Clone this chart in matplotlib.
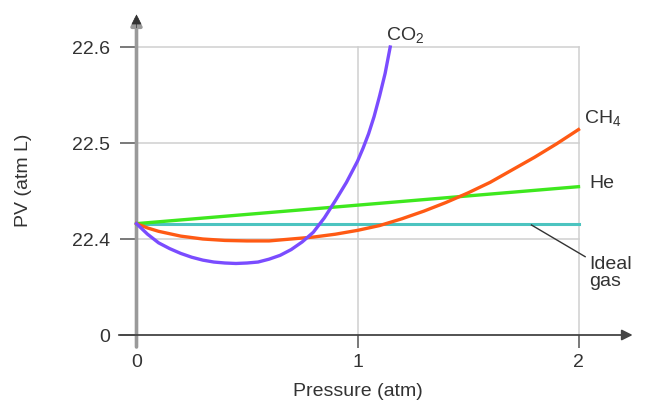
import numpy as np
import matplotlib.pyplot as plt
import matplotlib

matplotlib.rcParams['font.family'] = ['Liberation Sans', 'DejaVu Sans']
matplotlib.rcParams['mathtext.fontset'] = 'custom'
matplotlib.rcParams['mathtext.rm'] = 'Liberation Sans'
matplotlib.rcParams['mathtext.default'] = 'regular'

# ─── Data (pressure in atm, PV in atm L) ───
p_co2 = [0.0, 0.05, 0.1, 0.15, 0.2, 0.25, 0.3, 0.35, 0.4, 0.45, 0.5, 0.55, 0.6, 0.65,
         0.7, 0.75, 0.8, 0.85, 0.9, 0.95, 1.0, 1.025, 1.05, 1.075, 1.1, 1.125, 1.148]
pv_co2 = [22.416, 22.405, 22.396, 22.390, 22.385, 22.381, 22.378, 22.376, 22.375, 22.3745,
          22.375, 22.376, 22.379, 22.383, 22.389, 22.397, 22.407, 22.422, 22.440, 22.459,
          22.481, 22.4945, 22.5095, 22.5275, 22.549, 22.5725, 22.600]

p_ch4 = [0.0, 0.05, 0.1, 0.2, 0.3, 0.4, 0.5, 0.6, 0.7, 0.8, 0.9, 1.0,
         1.1, 1.2, 1.3, 1.4, 1.5, 1.6, 1.7, 1.8, 1.9, 2.0]
pv_ch4 = [22.416, 22.4115, 22.408, 22.403, 22.400, 22.3985, 22.398, 22.398, 22.400, 22.402,
          22.405, 22.409, 22.414, 22.421, 22.429, 22.438, 22.448, 22.459, 22.472, 22.485,
          22.499, 22.514]

p_he = [0.0, 2.0]
pv_he = [22.416, 22.4545]

p_ideal = [0.0, 2.0]
pv_ideal = [22.416, 22.416]

y_ticks_val = [0, 22.4, 22.5, 22.6]
y_tick_labels = ['0', '22.4', '22.5', '22.6']
x_ticks = [0, 1, 2]


# broken y axis: 0 sits one step below 22.4
def to_pos(v):
    v = np.asarray(v, dtype=float)
    return np.where(v == 0, 0.0, 1 + (v - 22.4) / 0.1)


W, H = 647, 403
TXT = '#333333'
FS = 14

fig = plt.figure(figsize=(W / 100, H / 100), dpi=100)
ax = fig.add_axes([136.5 / W, (H - 335) / H, 442 / W, 288 / H])
ax.set_xlim(0, 2)
ax.set_ylim(0, 3)
for s in ax.spines.values():
    s.set_visible(False)

# grid
for x in [1, 2]:
    ax.plot([x, x], [0, 3], color='#cfcfcf', lw=1.1, zorder=1, clip_on=False)
for y in [1, 2, 3]:
    ax.plot([0, 2], [y, y], color='#cfcfcf', lw=1.1, zorder=1, clip_on=False)

# axes with arrows
ax.annotate('', xy=(0, 3.34), xytext=(0, -0.125), xycoords='data',
            arrowprops=dict(arrowstyle='-|>', color='#9a9a9a', lw=2.6,
                            mutation_scale=16, shrinkA=0, shrinkB=0),
            annotation_clip=False, zorder=2)
ax.annotate('', xy=(0, 3.34), xytext=(0, 3.2), xycoords='data',
            arrowprops=dict(arrowstyle='-|>', color='#333333', lw=0.5,
                            mutation_scale=16, shrinkA=0, shrinkB=0),
            annotation_clip=False, zorder=3)
ax.annotate('', xy=(2.245, 0), xytext=(-0.08, 0), xycoords='data',
            arrowprops=dict(arrowstyle='-|>', color='#444444', lw=1.3,
                            mutation_scale=16, shrinkA=0, shrinkB=0),
            annotation_clip=False, zorder=3)

# curves
ax.plot(p_ideal, to_pos(pv_ideal), color='#4cc4c0', lw=2.2, zorder=4, clip_on=False)
ax.plot(p_he, to_pos(pv_he), color='#3ee81e', lw=2.4, zorder=5, clip_on=False)
ax.plot(p_ch4, to_pos(pv_ch4), color='#ff5a14', lw=2.4, zorder=6, clip_on=False,
        solid_joinstyle='round')
ax.plot(p_co2, to_pos(pv_co2), color='#7a4cff', lw=2.4, zorder=7, clip_on=False,
        solid_joinstyle='round')

# ticks
ax.set_yticks(to_pos(y_ticks_val))
ax.set_yticklabels(y_tick_labels)
ax.set_xticks(x_ticks)
ax.tick_params(axis='y', length=12, width=1.1, color='#555555', pad=7,
               labelsize=FS, labelcolor=TXT)
ax.tick_params(axis='x', length=9, width=1.1, color='#555555', pad=5,
               labelsize=FS, labelcolor=TXT)

ax.set_xlabel('Pressure (atm)', fontsize=FS, color=TXT)
ax.set_ylabel('PV (atm L)', fontsize=FS, color=TXT)
ax.xaxis.label.set_va('center')
ax.yaxis.label.set_va('center')
ax.xaxis.set_label_coords(0.5, (335 - 392) / 288)
ax.yaxis.set_label_coords((23 - 136.5) / 442, (335 - 180) / 288)

# curve labels
ax.text(1.13, 3.125, 'CO$_2$', fontsize=FS, color=TXT, va='center', ha='left')
ax.text(2.025, 2.26, 'CH$_4$', fontsize=FS, color=TXT, va='center', ha='left')
ax.text(2.05, 1.58, 'He', fontsize=FS, color=TXT, va='center', ha='left')
ax.text(2.05, 0.65, 'Ideal\ngas', fontsize=FS, color=TXT, va='center', ha='left',
        linespacing=1.0)
ax.plot([1.787, 2.03], [1.146, 0.816], color='#333333', lw=1.0, zorder=8, clip_on=False)

plt.savefig('out.png', dpi=100, facecolor='white')
plt.close()
